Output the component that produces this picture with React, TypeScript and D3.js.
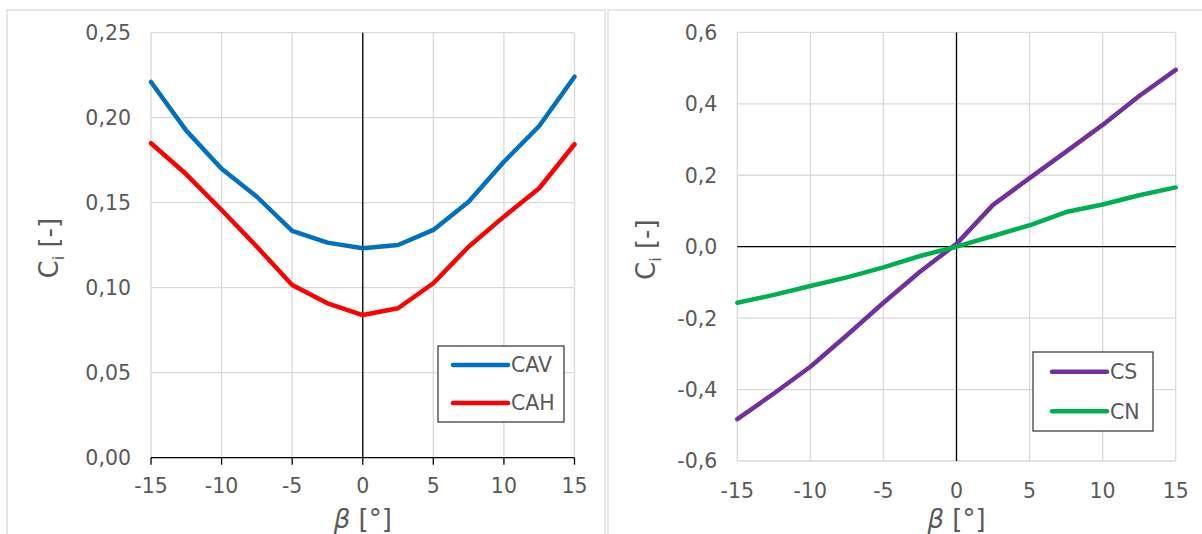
import React from "react";
import * as d3 from "d3";

// sideslip angle (deg)
const betas = [-15, -12.5, -10, -7.5, -5, -2.5, 0, 2.5, 5, 7.5, 10, 12.5, 15];

// left panel
const cav = [0.221, 0.1924, 0.170, 0.1535, 0.1334, 0.1265, 0.1232, 0.1251, 0.134, 0.1506, 0.1741, 0.1951, 0.2241];
const cah = [0.185, 0.1667, 0.1457, 0.1241, 0.1016, 0.0908, 0.0839, 0.0879, 0.1026, 0.1241, 0.1418, 0.1585, 0.1844];
const leftYTicks = [0, 0.05, 0.1, 0.15, 0.2, 0.25];

// right panel
const cs = [-0.483, -0.411, -0.336, -0.248, -0.157, -0.07, 0.008, 0.117, 0.192, 0.266, 0.341, 0.422, 0.495];
const cn = [-0.157, -0.135, -0.11, -0.086, -0.058, -0.026, 0, 0.03, 0.06, 0.097, 0.118, 0.144, 0.166];
const rightYTicks = [-0.6, -0.4, -0.2, 0, 0.2, 0.4, 0.6];

const xTicks = [-15, -10, -5, 0, 5, 10, 15];

const FONT = "'DejaVu Sans', Verdana, sans-serif";
const GREY = "#595959";
const GRID = "#d9d9d9";

type Series = { name: string; values: number[]; color: string };

type PanelProps = {
  left: number;
  right: number;
  top: number;
  bottom: number;
  yDomain: [number, number];
  yTicks: number[];
  decimals: number;
  series: Series[];
  legend: { x: number; y: number; w: number; h: number; pad: number };
  bottomAxis: boolean; // Excel-style axis with ticks at the bottom (left chart)
  yLabelX: number;
  tickLabelDy: number;
};

const fmt = (v: number, d: number) => v.toFixed(d).replace(".", ",");

const Panel = (p: PanelProps) => {
  const x = d3.scaleLinear().domain([-15, 15]).range([p.left, p.right]);
  const y = d3.scaleLinear().domain(p.yDomain).range([p.bottom, p.top]);
  const line = d3
    .line<number>()
    .x((_, i) => x(betas[i]))
    .y((d) => y(d));

  const midY = (p.top + p.bottom) / 2;
  const midX = x(0);

  return (
    <g>
      {/* grid */}
      {p.yTicks.map((t) => (
        <line key={"h" + t} x1={p.left} x2={p.right} y1={y(t)} y2={y(t)} stroke={GRID} strokeWidth={1.3} />
      ))}
      {xTicks.map((t) => (
        <line key={"v" + t} x1={x(t)} x2={x(t)} y1={p.top} y2={p.bottom} stroke={GRID} strokeWidth={1.3} />
      ))}

      {/* axes through zero */}
      <line x1={midX} x2={midX} y1={p.top} y2={p.bottom} stroke="#000" strokeWidth={1.3} />
      <line x1={p.left} x2={p.right} y1={y(0)} y2={y(0)} stroke="#000" strokeWidth={1.3} />
      {p.bottomAxis &&
        xTicks.map((t) => (
          <line key={"t" + t} x1={x(t)} x2={x(t)} y1={y(0)} y2={y(0) + 7} stroke="#000" strokeWidth={1.3} />
        ))}

      {/* series */}
      {p.series.map((s) => (
        <path
          key={s.name}
          d={line(s.values) ?? ""}
          fill="none"
          stroke={s.color}
          strokeWidth={4.5}
          strokeLinejoin="round"
          strokeLinecap="round"
        />
      ))}

      {/* tick labels */}
      {p.yTicks.map((t) => (
        <text key={"yl" + t} x={p.left - 20} y={y(t)} dy="0.36em" textAnchor="end" fontSize={20.5} fill={GREY} fontFamily={FONT}>
          {fmt(t, p.decimals)}
        </text>
      ))}
      {xTicks.map((t) => (
        <text key={"xl" + t} x={x(t)} y={p.bottom + p.tickLabelDy} textAnchor="middle" fontSize={20.5} fill={GREY} fontFamily={FONT}>
          {t}
        </text>
      ))}

      {/* axis titles */}
      <text x={midX} y={528} textAnchor="middle" fontSize={26} fill={GREY} fontFamily={FONT}>
        <tspan fontStyle="italic">β</tspan> [°]
      </text>
      <text transform={`translate(${p.yLabelX},${midY + 3}) rotate(-90)`} textAnchor="middle" fontSize={26} fill={GREY} fontFamily={FONT}>
        C<tspan fontSize={16} dy={6}>i</tspan>
        <tspan dy={-6}> [-]</tspan>
      </text>

      {/* legend */}
      <rect x={p.legend.x} y={p.legend.y} width={p.legend.w} height={p.legend.h} fill="#fff" stroke="#404040" strokeWidth={1.3} />
      {p.series.map((s, i) => {
        const ly = p.legend.y + p.legend.h * (i === 0 ? 0.25 : 0.75);
        const lx = p.legend.x + p.legend.pad;
        return (
          <g key={"lg" + s.name}>
            <line x1={lx} x2={lx + 55} y1={ly} y2={ly} stroke={s.color} strokeWidth={4.5} strokeLinecap="round" />
            <text x={lx + 58} y={ly} dy="0.36em" fontSize={20.5} fill={GREY} fontFamily={FONT}>
              {s.name}
            </text>
          </g>
        );
      })}
    </g>
  );
};

export default function App() {
  return (
    <svg width={1202} height={534} style={{ position: "absolute", left: 0, top: 0, background: "#fff" }}>
      <rect x={0} y={0} width={1202} height={534} fill="#fff" />
      <rect x={7} y={10} width={598} height={540} fill="#fff" stroke={GRID} strokeWidth={1.3} />
      <rect x={608} y={10} width={610} height={540} fill="#fff" stroke={GRID} strokeWidth={1.3} />

      <Panel
        left={151}
        right={574.5}
        top={32.7}
        bottom={457.7}
        yDomain={[0, 0.25]}
        yTicks={leftYTicks}
        decimals={2}
        series={[
          { name: "CAV", values: cav, color: "#0070c0" },
          { name: "CAH", values: cah, color: "#ff0000" },
        ]}
        legend={{ x: 438, y: 346, w: 126, h: 76, pad: 15 }}
        bottomAxis={true}
        yLabelX={58}
        tickLabelDy={35}
      />
      <Panel
        left={737.3}
        right={1175.7}
        top={32.4}
        bottom={461}
        yDomain={[-0.6, 0.6]}
        yTicks={rightYTicks}
        decimals={1}
        series={[
          { name: "CS", values: cs, color: "#7030a0" },
          { name: "CN", values: cn, color: "#00b050" },
        ]}
        legend={{ x: 1033, y: 352, w: 120, h: 79, pad: 19 }}
        bottomAxis={false}
        yLabelX={655}
        tickLabelDy={37}
      />
    </svg>
  );
}
